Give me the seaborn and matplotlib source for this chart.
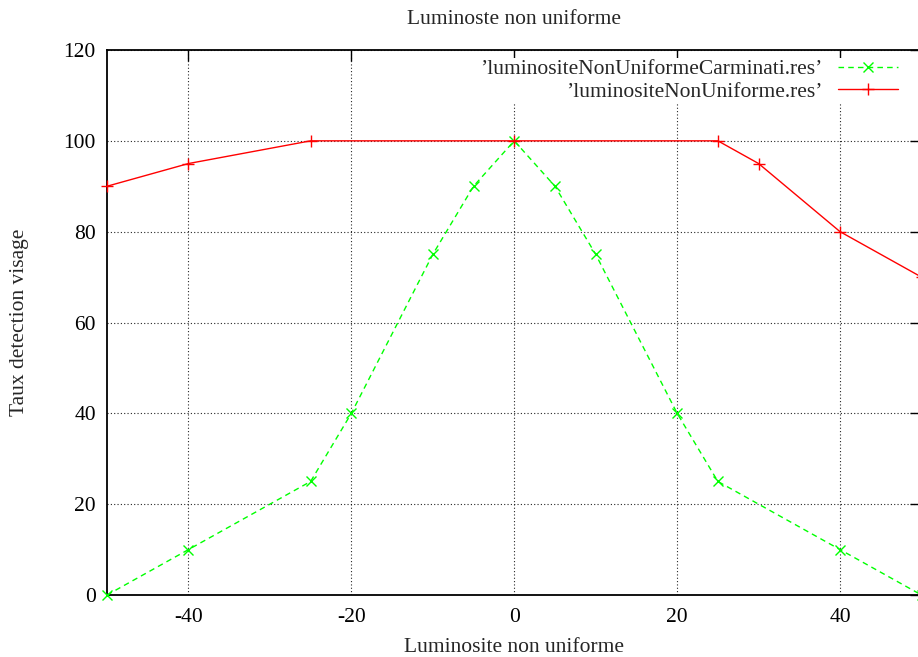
import matplotlib
matplotlib.use("Agg")
import matplotlib.pyplot as plt
import seaborn as sns
import pandas as pd

# Detection rate vs. non-uniform luminosity, two methods
lum_carminati = [-50, -40, -25, -20, -10, -5, 0, 5, 10, 20, 25, 40, 50]
rate_carminati = [0, 10, 25, 40, 75, 90, 100, 90, 75, 40, 25, 10, 0]

lum_ours = [-50, -40, -25, 0, 25, 30, 40, 50]
rate_ours = [90, 95, 100, 100, 100, 95, 80, 70]

label_carminati = "\u2019luminositeNonUniformeCarminati.res\u2019"
label_ours = "\u2019luminositeNonUniforme.res\u2019"

x_ticks = [-40, -20, 0, 20, 40]
y_ticks = [0, 20, 40, 60, 80, 100, 120]

FS = 15.5

sns.set_theme(style="white")
plt.rcParams["font.family"] = ["Liberation Serif", "DejaVu Serif"]
plt.rcParams["font.size"] = FS
plt.rcParams["axes.unicode_minus"] = False

W, H = 918, 657
fig = plt.figure(figsize=(W / 100, H / 100), dpi=100)
ax = fig.add_axes([107 / W, (H - 595) / H, 814.5 / W, 545 / H])

df_c = pd.DataFrame({"x": lum_carminati, "y": rate_carminati})
df_o = pd.DataFrame({"x": lum_ours, "y": rate_ours})

sns.lineplot(data=df_c, x="x", y="y", ax=ax, color="#00ff00", linestyle=(0, (4, 3)),
             linewidth=1.0, marker="x", markersize=7, markeredgewidth=1.0,
             markeredgecolor="#00ff00", label=label_carminati, clip_on=False, zorder=3)
sns.lineplot(data=df_o, x="x", y="y", ax=ax, color="#ff0000", linestyle="-",
             linewidth=1.0, marker="+", markersize=9, markeredgewidth=1.0,
             markeredgecolor="#ff0000", label=label_ours, clip_on=False, zorder=3)

ax.set_xlim(-50, 50)
ax.set_ylim(0, 120)
ax.set_xticks(x_ticks)
ax.set_yticks(y_ticks)
ax.set_xlabel("")
ax.set_ylabel("")

ax.grid(True, color="black", linestyle=(0, (1, 2)), linewidth=0.8, alpha=0.85)
for s in ax.spines.values():
    s.set_color("black")
    s.set_linewidth(1.3)
ax.tick_params(direction="in", length=8, width=1.0, color="black",
               top=True, right=True, labelsize=FS, labelcolor="black")
ax.tick_params(axis="x", pad=9)
ax.tick_params(axis="y", pad=8)

leg = ax.legend(loc="upper right", bbox_to_anchor=(899 / W, 1 - 58 / H),
                bbox_transform=fig.transFigure, markerfirst=False, frameon=True,
                facecolor="white", edgecolor="none", framealpha=1.0,
                borderpad=0.05, borderaxespad=0, handlelength=2.8,
                handletextpad=0.7, labelspacing=0.12, fontsize=FS, fancybox=False)
leg.set_zorder(4)

fig.text(514 / W, 1 - 19 / H, "Luminoste non uniforme", ha="center", va="center", fontsize=FS)
fig.text(514 / W, 1 - 647 / H, "Luminosite non uniforme", ha="center", va="center", fontsize=FS)
fig.text(20 / W, 1 - 322 / H, "Taux detection visage", ha="center", va="center",
         rotation=90, fontsize=FS)

fig.savefig("out.png", dpi=100)
